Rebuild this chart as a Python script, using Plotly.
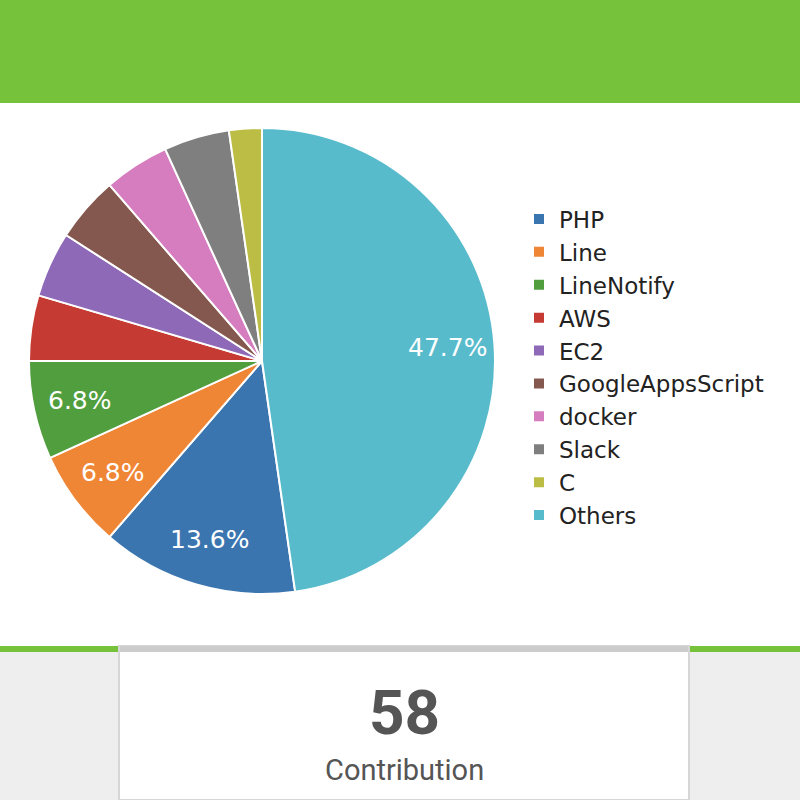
import math
import plotly.graph_objects as go

labels = ["PHP", "Line", "LineNotify", "AWS", "EC2", "GoogleAppsScript",
          "docker", "Slack", "C", "Others"]
values = [6, 3, 3, 2, 2, 2, 2, 2, 1, 21]
colors = ["#3b75af", "#ef8636", "#519e3e", "#c53a32", "#8d69b8", "#84584e",
          "#d57dbf", "#7f7f7f", "#bcbd45", "#58bbcc"]
total_label = "58"
caption = "Contribution"

total = sum(values)
# first slice (PHP) starts where "Others" ends when read clockwise from 12 o'clock
rotation = 360.0 * values[-1] / total

W = H = 800
dom_x = [29 / W, 495 / W]
dom_y = [1 - 594 / H, 1 - 128 / H]

fig = go.Figure()
fig.add_trace(go.Pie(
    labels=labels, values=values, sort=False, direction="clockwise",
    rotation=rotation,
    marker=dict(colors=colors, line=dict(color="white", width=2)),
    textinfo="none",
    hoverinfo="label+percent",
    domain=dict(x=dom_x, y=dom_y),
))

# percentage labels placed at 80% of the radius along each slice's mid-angle
cx = (dom_x[0] + dom_x[1]) / 2 * W
cy = (1 - (dom_y[0] + dom_y[1]) / 2) * H
radius = min((dom_x[1] - dom_x[0]) * W, (dom_y[1] - dom_y[0]) * H) / 2
annotations = []
cum = 0.0
for lab, v in zip(labels, values):
    frac = v / total
    mid = math.radians(rotation + 360.0 * (cum + frac / 2))
    cum += frac
    if frac < 0.05:
        continue
    px = cx + 0.8 * radius * math.sin(mid)
    py = cy - 0.8 * radius * math.cos(mid)
    annotations.append(dict(
        text=f"{frac * 100:.1f}%", xref="paper", yref="paper",
        x=px / W, y=1 - py / H, showarrow=False, xanchor="center", yanchor="middle",
        font=dict(size=25, color="white", family="DejaVu Sans")))

green = "#76c23b"
shapes = [
    dict(type="rect", xref="paper", yref="paper", x0=0, x1=1, y0=1 - 103 / H, y1=1,
         fillcolor=green, line_width=0, layer="below"),
    dict(type="rect", xref="paper", yref="paper", x0=0, x1=1, y0=0, y1=1 - 646 / H,
         fillcolor="#eeeeee", line_width=0, layer="below"),
    dict(type="rect", xref="paper", yref="paper", x0=0, x1=1, y0=1 - 652 / H, y1=1 - 646 / H,
         fillcolor=green, line_width=0, layer="below"),
    dict(type="rect", xref="paper", yref="paper", x0=119 / W, x1=689 / W, y0=0, y1=1 - 646 / H,
         fillcolor="white", line=dict(color="#d6d6d6", width=2), layer="below"),
    dict(type="rect", xref="paper", yref="paper", x0=120 / W, x1=688 / W, y0=1 - 652 / H, y1=1 - 646 / H,
         fillcolor="#cccccc", line_width=0, layer="below"),
]

annotations += [
    dict(text=f"<b>{total_label}</b>", xref="paper", yref="paper", x=404 / W, y=1 - 712 / H,
         showarrow=False, font=dict(size=62, color="#555555", family="Roboto"),
         xanchor="center", yanchor="middle"),
    dict(text=caption, xref="paper", yref="paper", x=404 / W, y=1 - 770 / H,
         showarrow=False, font=dict(size=29, color="#555555", family="Roboto"),
         xanchor="center", yanchor="middle"),
]

fig.update_layout(
    width=W, height=H, margin=dict(l=0, r=0, t=0, b=0),
    paper_bgcolor="white", plot_bgcolor="white",
    shapes=shapes, annotations=annotations,
    showlegend=True,
    legend=dict(x=519 / W, y=1 - 367 / H, xanchor="left", yanchor="middle",
                font=dict(size=23, color="#222222", family="DejaVu Sans"),
                bgcolor="rgba(0,0,0,0)", tracegroupgap=0),
)

fig.write_html("out.html")
